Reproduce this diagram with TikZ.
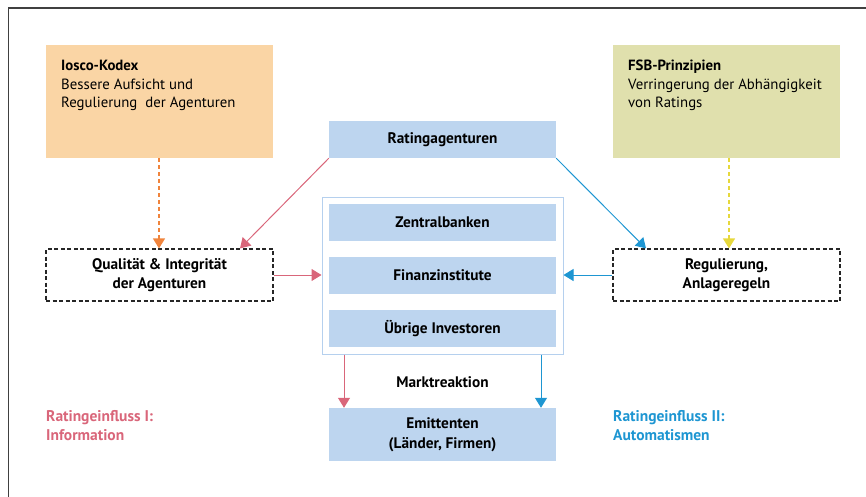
\documentclass[tikz,border=0pt]{standalone}
\usepackage{fontspec}
\setmainfont{PT Sans}
\usetikzlibrary{arrows.meta}
\definecolor{orangebox}{HTML}{FAD5A5}
\definecolor{greenbox}{HTML}{E0E0AD}
\definecolor{bluebox}{HTML}{BDD5EF}
\definecolor{bluefr}{HTML}{B5D0EE}
\definecolor{redc}{HTML}{D9667A}
\definecolor{bluec}{HTML}{1E96D2}
\definecolor{orangec}{HTML}{F0843C}
\definecolor{yellowc}{HTML}{E6D83C}
\begin{document}
\begin{tikzpicture}[x=1pt,y=-1pt,
  font=\fontsize{15.3}{19.5}\selectfont,
  bbox/.style={fill=bluebox,draw=none,minimum width=227pt,minimum height=37pt,inner sep=0pt,font=\fontsize{15.3}{19.5}\selectfont\bfseries,align=center},
  topbox/.style={draw=none,minimum width=227pt,minimum height=113pt,inner sep=0pt,anchor=north west},
  toptext/.style={anchor=north west,align=left,inner sep=0pt,font=\fontsize{14.8}{18.5}\selectfont},
  dbox/.style={draw=black!85,dash pattern=on 4pt off 2.5pt,line width=1.2pt,minimum width=227pt,minimum height=52pt,inner sep=0pt,align=center,font=\fontsize{15.3}{19}\selectfont\bfseries},
  arr/.style={line width=1pt,-{Triangle[length=10pt,width=12pt]}},
  darr/.style={arr,line width=1.3pt,dash pattern=on 4pt off 3pt},
  lbl/.style={anchor=north west,align=left,inner sep=0pt,font=\fontsize{15.5}{19}\selectfont\bfseries},
]
\useasboundingbox (0,0) rectangle (866,496);
\draw[black!75,line width=1.2pt] (8.5,8) rectangle (880,510);
% top boxes
\node[topbox,fill=orangebox] (iosco) at (46,45) {};
\node[toptext] (ioscot) at (61,60) {\textbf{Iosco-Kodex}\\Bessere Aufsicht und\\Regulierung\ \ der Agenturen};
\node[topbox,fill=greenbox] (fsb) at (613,45) {};
\node[toptext] (fsbt) at (628,60) {\textbf{FSB-Prinzipien}\\Verringerung der Abhängigkeit\\von Ratings};
% center
\node[bbox] (ra) at (442.5,139.5) {Ratingagenturen};
\node[draw=bluefr,line width=1pt,minimum width=241pt,minimum height=157pt,inner sep=0pt] (cont) at (442.5,275.5) {};
\node[bbox] (zb) at (442.5,222.5) {Zentralbanken};
\node[bbox] (fi) at (442.5,275.5) {Finanzinstitute};
\node[bbox] (ui) at (442.5,328.5) {Übrige Investoren};
\node[bbox,minimum height=53pt] (em) at (442.5,434.5) {Emittenten\\(Länder, Firmen)};
\node[font=\fontsize{15.3}{19}\selectfont\bfseries] (mr) at (442.5,382) {Marktreaktion};
% dashed boxes
\node[dbox] (qi) at (159.5,275) {Qualität \& Integrität\\der Agenturen};
\node[dbox] (rg) at (726.5,275) {Regulierung,\\Anlageregeln};
% labels
\node[lbl,text=redc] (l1) at (46,410) {Ratingeinfluss I:\\Information};
\node[lbl,text=bluec] (l2) at (613,410) {Ratingeinfluss II:\\Automatismen};
% arrows
\draw[darr,orangec] (iosco.south -| 159,0) -- (qi.north -| 159,0);
\draw[darr,yellowc] (fsb.south -| 729,0) -- (rg.north -| 729,0);
\draw[arr,redc] (ra.south west) -- (qi.north -| 240,0);
\draw[arr,bluec] (ra.south east) -- (rg.north -| 646,0);
\draw[arr,redc] (qi.east) -- (qi.east -| cont.west);
\draw[arr,bluec] (rg.west) -- (rg.west -| cont.east);
\draw[arr,redc] (cont.south -| 344,0) -- (em.north -| 344,0);
\draw[arr,bluec] (cont.south -| 541,0) -- (em.north -| 541,0);
\end{tikzpicture}
\end{document}
